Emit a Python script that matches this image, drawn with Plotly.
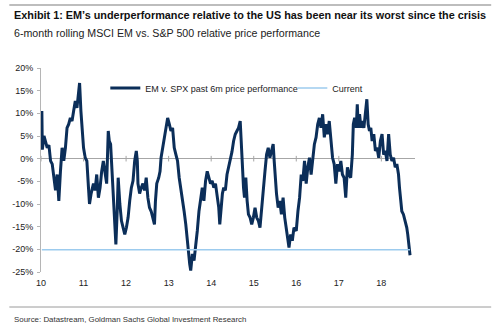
import plotly.graph_objects as go

# 6-month rolling relative performance, MSCI EM vs. S&P 500 (decimal years, %)
years = [
    2010.02, 2010.031, 2010.07, 2010.109, 2010.147, 2010.186, 2010.225, 2010.264, 2010.302, 2010.341,
    2010.38, 2010.419, 2010.457, 2010.496, 2010.535, 2010.574, 2010.612, 2010.651, 2010.69, 2010.729,
    2010.767, 2010.806, 2010.845, 2010.884, 2010.907, 2010.938, 2010.961, 2011.0, 2011.039, 2011.078,
    2011.116, 2011.14, 2011.178, 2011.233, 2011.271, 2011.31, 2011.349, 2011.388, 2011.426, 2011.465,
    2011.504, 2011.543, 2011.581, 2011.605, 2011.636, 2011.659, 2011.698, 2011.736, 2011.76, 2011.791,
    2011.814, 2011.853, 2011.891, 2011.93, 2011.969, 2012.008, 2012.047, 2012.085, 2012.124, 2012.163,
    2012.202, 2012.24, 2012.264, 2012.279, 2012.318, 2012.357, 2012.395, 2012.434, 2012.473, 2012.512,
    2012.55, 2012.589, 2012.628, 2012.667, 2012.69, 2012.721, 2012.767, 2012.798, 2012.822, 2012.86,
    2012.899, 2012.938, 2012.977, 2013.016, 2013.054, 2013.093, 2013.132, 2013.171, 2013.209, 2013.248,
    2013.287, 2013.326, 2013.364, 2013.403, 2013.442, 2013.465, 2013.496, 2013.519, 2013.558, 2013.597,
    2013.636, 2013.674, 2013.713, 2013.752, 2013.791, 2013.829, 2013.868, 2013.907, 2013.946, 2013.984,
    2014.023, 2014.062, 2014.101, 2014.14, 2014.178, 2014.202, 2014.233, 2014.264, 2014.295, 2014.333,
    2014.372, 2014.411, 2014.45, 2014.488, 2014.527, 2014.566, 2014.605, 2014.643, 2014.682, 2014.705,
    2014.736, 2014.76, 2014.783, 2014.814, 2014.845, 2014.876, 2014.915, 2014.953, 2014.992, 2015.031,
    2015.07, 2015.109, 2015.147, 2015.186, 2015.225, 2015.264, 2015.302, 2015.341, 2015.38, 2015.419,
    2015.457, 2015.481, 2015.512, 2015.535, 2015.574, 2015.612, 2015.651, 2015.69, 2015.729, 2015.767,
    2015.806, 2015.829, 2015.868, 2015.907, 2015.946, 2016.0, 2016.039, 2016.078, 2016.116, 2016.155,
    2016.194, 2016.233, 2016.271, 2016.31, 2016.349, 2016.388, 2016.426, 2016.465, 2016.504, 2016.543,
    2016.581, 2016.62, 2016.659, 2016.698, 2016.737, 2016.775, 2016.814, 2016.853, 2016.891, 2016.93,
    2016.969, 2017.008, 2017.047, 2017.085, 2017.124, 2017.163, 2017.202, 2017.24, 2017.279, 2017.318,
    2017.341, 2017.372, 2017.411, 2017.434, 2017.457, 2017.488, 2017.519, 2017.55, 2017.589, 2017.628,
    2017.659, 2017.69, 2017.721, 2017.752, 2017.783, 2017.822, 2017.86, 2017.899, 2017.938, 2017.977,
    2018.016, 2018.054, 2018.093, 2018.132, 2018.171, 2018.209, 2018.248, 2018.287, 2018.326, 2018.364,
    2018.403, 2018.426, 2018.457, 2018.481, 2018.519, 2018.558, 2018.597, 2018.62, 2018.651, 2018.674,
]
rel_perf = [
    10.5, 2.0, 5.0, 3.9, 2.4, 3.0, -0.5, -1.2, -4.2, -7.0,
    -3.5, -9.3, -2.8, 2.4, -0.5, 2.4, 6.8, 7.6, 9.0, 8.3,
    10.5, 12.7, 11.2, 14.9, 16.7, 10.5, 6.8, 2.4, 0.2, -0.5,
    -6.4, -10.0, -7.7, -5.5, -7.0, -3.5, -8.6, -6.4, -2.8, -0.5,
    -3.0, -5.5, 6.1, 3.9, 3.2, -0.5, -6.4, -12.3, -18.9, -11.6,
    -4.2, -10.0, -13.7, -15.2, -16.7, -15.2, -13.0, -9.3, -6.4, -4.9,
    -0.5, 1.7, -0.5, -5.5, -7.7, -6.4, -5.5, -7.0, -4.2, -8.6,
    -10.8, -11.6, -13.0, -14.5, -9.3, -5.5, -4.2, -2.8, 0.2, 2.4,
    3.9, 6.8, 9.0, 7.6, 6.1, 6.8, 2.4, 0.9, -0.5, -4.2,
    -6.4, -8.6, -11.6, -14.5, -18.1, -21.8, -23.3, -24.7, -21.0, -22.5,
    -19.6, -15.9, -11.6, -9.3, -6.4, -9.3, -4.9, -2.8, -4.2, -5.5,
    -4.9, -6.4, -5.5, -7.7, -10.8, -14.5, -10.0, -7.7, -6.4, -7.0,
    -3.5, -2.0, -0.5, 1.5, 3.9, 5.4, 6.1, 6.8, 8.3, 3.2,
    -1.9, -6.4, -8.6, -4.2, -9.3, -12.3, -13.0, -14.5, -13.0, -10.8,
    -13.0, -13.7, -15.2, -11.6, -7.7, -2.8, 0.9, 2.4, 0.2, 1.7,
    3.2, -0.5, -4.9, -7.7, -10.8, -9.3, -12.3, -8.6, -13.0, -15.2,
    -17.5, -19.6, -16.7, -18.1, -15.2, -15.9, -11.6, -8.6, -3.5, -4.9,
    -0.5, -5.5, -1.9, 0.2, -3.5, 0.9, 3.2, 4.7, 7.6, 9.0,
    6.8, 9.8, 4.7, 7.6, 5.4, 8.3, 3.2, 0.2, -1.2, -5.5,
    -1.2, -2.8, -0.5, -3.5, -4.2, -8.6, -1.9, -3.5, -4.2, 0.9,
    7.6, 9.0, 6.8, 12.0, 6.8, 9.8, 6.8, 8.3, 6.8, 11.2,
    13.1, 7.6, 6.1, 6.8, 3.9, 5.4, 1.7, 2.4, 0.2, 3.9,
    5.4, 0.9, 1.7, -0.5, 5.4, 0.9, -0.5, 0.2, -1.9, -1.2,
    -3.5, -6.4, -9.3, -11.6, -12.3, -13.7, -15.2, -16.7, -18.9, -21.3,
]
current_level = -20.1

year_ticks = [2010, 2011, 2012, 2013, 2014, 2015, 2016, 2017, 2018]
year_labels = ["10", "11", "12", "13", "14", "15", "16", "17", "18"]
pct_ticks = [-25, -20, -15, -10, -5, 0, 5, 10, 15, 20]
pct_labels = ["-25%", "-20%", "-15%", "-10%", "-5%", "0%", "5%", "10%", "15%", "20%"]

NAVY = "#0b2e59"
LIGHT_BLUE = "#9ccbee"
GRID_GREY = "#a6a6a6"
NARROW = "Liberation Sans Narrow, Arial Narrow, Liberation Sans, Arial, sans-serif"
SANS = "Liberation Sans, Arial, sans-serif"

fig = go.Figure()

fig.add_trace(go.Scatter(
    x=years, y=rel_perf, mode="lines",
    name="EM v. SPX past 6m price performance",
    line=dict(color=NAVY, width=3),
    hoverinfo="skip", legend="legend",
))
fig.add_trace(go.Scatter(
    x=[years[0], years[-1]], y=[current_level, current_level], mode="lines",
    name="Current",
    line=dict(color=LIGHT_BLUE, width=1.6),
    hoverinfo="skip", legend="legend2",
))
# small year tick marks sitting on the zero line
fig.add_trace(go.Scatter(
    x=year_ticks, y=[0] * len(year_ticks), mode="markers",
    marker=dict(symbol="line-ns", size=4, line=dict(color=GRID_GREY, width=1)),
    showlegend=False, hoverinfo="skip",
))

W, H = 498, 327
L, R, T, B = 37, 415, 68, 272


def px_x(px):
    return (px - L) / (R - L)


def px_y(py):
    return (B - py) / (B - T)


legend_style = dict(
    orientation="h", y=px_y(88), xanchor="left", yanchor="middle",
    bgcolor="rgba(0,0,0,0)", font=dict(family=SANS, size=9, color="#222222"),
    itemwidth=30, tracegroupgap=0,
)

fig.update_layout(
    width=W, height=H, autosize=False,
    margin=dict(l=L, r=W - R, t=T, b=H - B),
    paper_bgcolor="white", plot_bgcolor="white",
    font=dict(family=SANS, size=9, color="#222222"),
    showlegend=True,
    legend=dict(x=px_x(102), **legend_style),
    legend2=dict(x=px_x(291), **legend_style),
    xaxis=dict(
        range=[2010, 2010 + (R - L) / 43.0],
        tickvals=year_ticks, ticktext=year_labels,
        showgrid=False, showline=False, zeroline=False, ticks="",
        ticklabelstandoff=4,
        tickfont=dict(family=SANS, size=9, color="#222222"),
        fixedrange=True,
    ),
    yaxis=dict(
        range=[-25, 20],
        tickvals=pct_ticks, ticktext=pct_labels,
        showgrid=False, showline=True, linecolor="#b5b5b5", linewidth=1,
        ticks="outside", ticklen=3, tickcolor="#b5b5b5",
        ticklabelstandoff=2,
        zeroline=True, zerolinecolor=GRID_GREY, zerolinewidth=1,
        tickfont=dict(family=SANS, size=9, color="#222222"),
        fixedrange=True,
    ),
    annotations=[
        dict(text="<b>Exhibit 1: EM\u2019s underperformance relative to the US has been near its worst since the crisis</b>",
             xref="paper", yref="paper", x=px_x(8), y=px_y(15), xanchor="left", yanchor="middle",
             showarrow=False, font=dict(family=NARROW, size=10.85, color="#111111")),
        dict(text="6-month rolling MSCI EM vs. S&P 500 relative price performance",
             xref="paper", yref="paper", x=px_x(8), y=px_y(33), xanchor="left", yanchor="middle",
             showarrow=False, font=dict(family=NARROW, size=10.65, color="#222222")),
        dict(text="Source: Datastream, Goldman Sachs Global Investment Research",
             xref="paper", yref="paper", x=px_x(8), y=px_y(319), xanchor="left", yanchor="middle",
             showarrow=False, font=dict(family=NARROW, size=7.9, color="#333333")),
    ],
    shapes=[
        dict(type="line", xref="paper", yref="paper", x0=px_x(5), x1=px_x(492),
             y0=px_y(5), y1=px_y(5), line=dict(color="#bdbdbd", width=2)),
        dict(type="line", xref="paper", yref="paper", x0=px_x(5), x1=px_x(492),
             y0=px_y(307), y1=px_y(307), line=dict(color="#9a9a9a", width=1)),
    ],
)

fig.write_html("out.html")
